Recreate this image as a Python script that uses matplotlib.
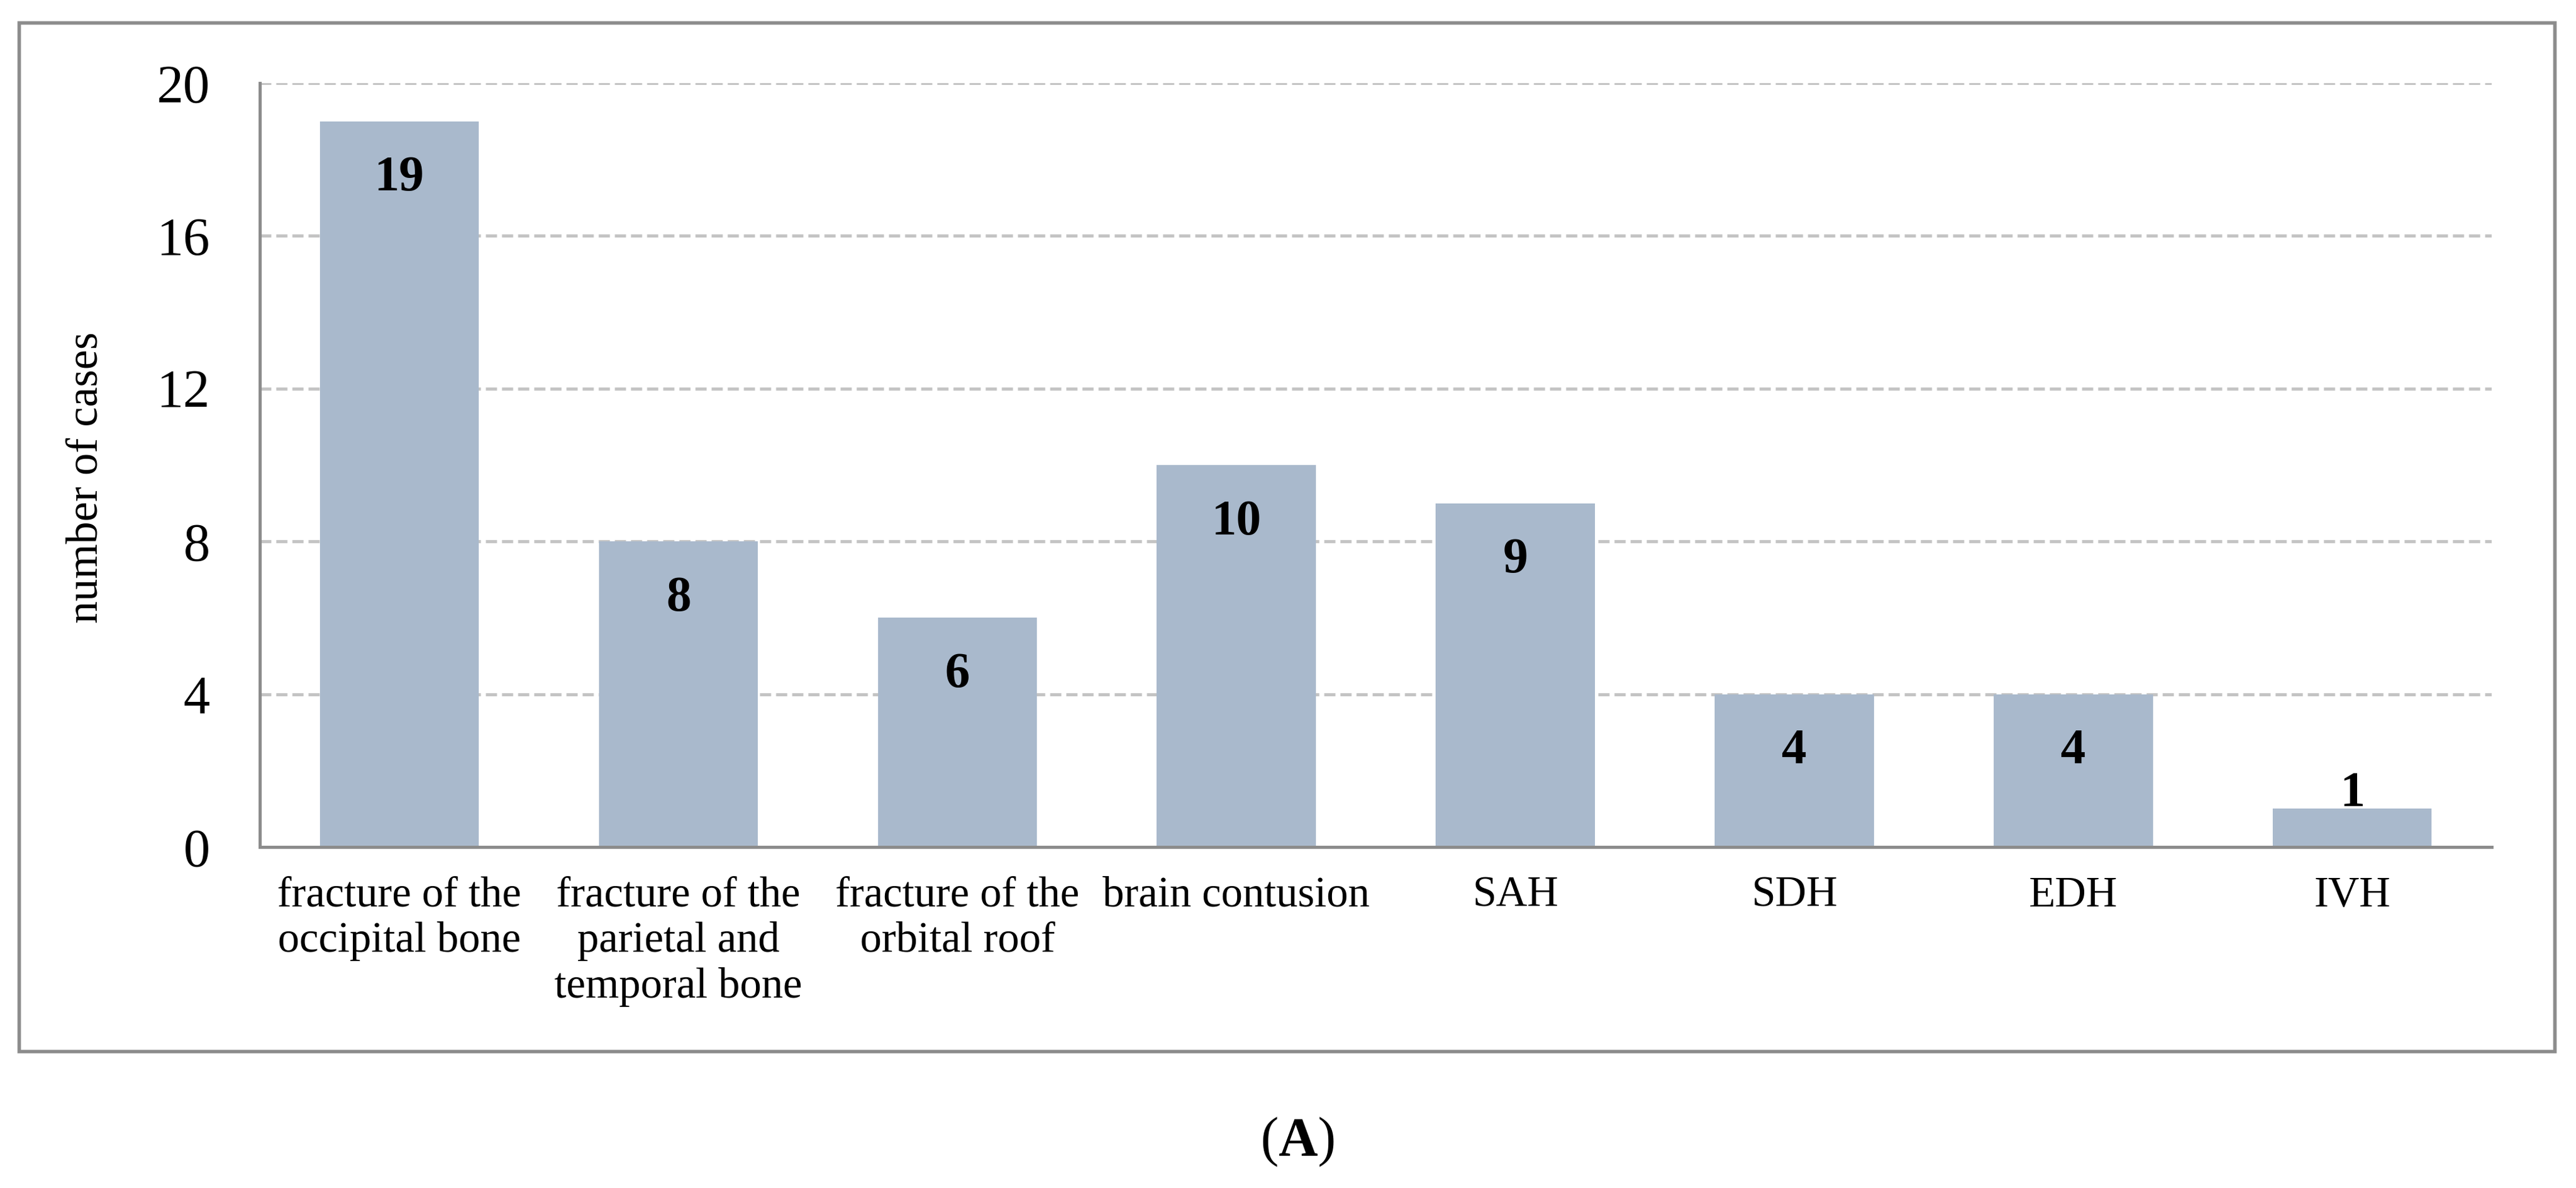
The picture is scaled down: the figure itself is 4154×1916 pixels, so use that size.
import matplotlib
matplotlib.use('Agg')
import matplotlib.pyplot as plt
from matplotlib.patches import Rectangle

plt.rcParams['font.family'] = ['Liberation Serif', 'DejaVu Serif']
plt.rcParams['mathtext.fontset'] = 'custom'
plt.rcParams['mathtext.rm'] = 'Liberation Serif'
plt.rcParams['mathtext.bf'] = 'Liberation Serif:bold'

categories = ['fracture of the\noccipital bone',
              'fracture of the\nparietal and\ntemporal bone',
              'fracture of the\norbital roof',
              'brain contusion', 'SAH', 'SDH', 'EDH', 'IVH']
cases = [19, 8, 6, 10, 9, 4, 4, 1]
yticks = [0, 4, 8, 12, 16, 20]

bar_color = '#a9b9cc'
line_gray = '#8c8c8c'

fig = plt.figure(figsize=(41.54, 19.16), dpi=100)
ax = fig.add_axes([0.1009, 0.2871, 0.8664, 0.6430])

x = list(range(len(categories)))
ax.bar(x, cases, width=0.57, color=bar_color, zorder=2)

# value labels inside the bar top, above the bar when it is too short
for xi, v in zip(x, cases):
    ty = v - 1.5 if v >= 3 else v + 0.38
    ax.text(xi, ty, str(v), ha='center', va='center', fontsize=58,
            fontweight='bold', color='black', zorder=3)

ax.set_xlim(-0.5, len(categories) - 0.5)
ax.set_ylim(0, 20)
ax.set_yticks(yticks)
ax.set_yticklabels([str(t) for t in yticks], fontsize=62)
ax.set_xticks(x)
ax.set_xticklabels(categories, fontsize=50, linespacing=1.2)
ax.tick_params(axis='y', length=0, pad=58)
ax.tick_params(axis='x', length=0, pad=34)

ax.yaxis.grid(True, color='#c4c4c4', linewidth=3.6, linestyle=(0, (3.6, 1.6)), zorder=0)
ax.set_axisbelow(True)
for s in ['top', 'right']:
    ax.spines[s].set_visible(False)
for s in ['left', 'bottom']:
    ax.spines[s].set_color(line_gray)
    ax.spines[s].set_linewidth(3.6)
    ax.spines[s].set_zorder(4)

fig.text(140 / 4154, 1 - 770 / 1916, 'number of cases', rotation=90,
         ha='center', va='center', fontsize=52)

# outer chart frame
fig.patches.append(Rectangle((0.00746, 0.1148), 0.98434, 0.8659, transform=fig.transFigure,
                             fill=False, edgecolor=line_gray, linewidth=4))

fig.text(2092 / 4154, 1 - 1863 / 1916, r'($\mathbf{A}$)', ha='center', va='baseline', fontsize=63)
fig.savefig('out.png', dpi=100)
